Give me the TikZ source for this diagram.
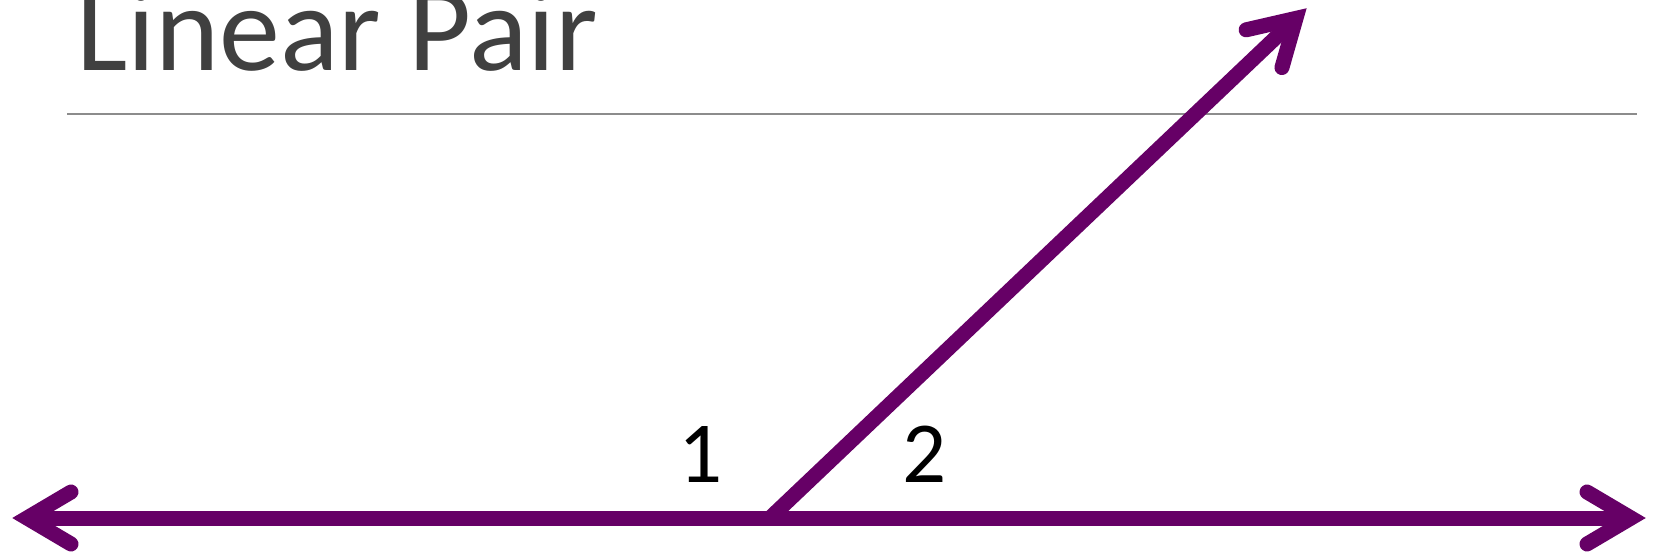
\documentclass[tikz,border=0pt]{standalone}
\usepackage{fontspec}
\setmainfont{Carlito}
\usetikzlibrary{calc}
\definecolor{purp}{HTML}{660066}
\definecolor{titlegray}{HTML}{404040}
\definecolor{rulegray}{HTML}{8C8C8C}
\begin{document}
\begin{tikzpicture}[x=1pt,y=1pt,
  rayline/.style={draw=purp, line width=15pt},
  barbs/.pic={\draw[purp, line width=15pt, line cap=round, line join=miter] (-62,26) -- (-18,0) -- (-62,-26);},
  anglelabel/.style={font=\fontsize{87}{87}\selectfont, anchor=base, inner sep=0pt, text=black},
  titletext/.style={font=\fontsize{122}{122}\selectfont, anchor=base west, inner sep=0pt, text=titlegray},
  rulestyle/.style={draw=rulegray, line width=1.5pt}]
\useasboundingbox (0,0) rectangle (1656,558);
% title and rule
\node[titletext] (title) at (76,487) {Linear Pair};
\coordinate (ruleL) at (67,444);
\coordinate (ruleR) at (1637,444);
\draw[rulestyle] (ruleL) -- (ruleR);
% line and ray
\coordinate (LT) at (9,40);
\coordinate (RT) at (1649,40);
\coordinate (LV) at (28,40);
\coordinate (RV) at (1630,40);
\coordinate (V) at (770,40);
\coordinate (UT) at (1309,552);
\draw[rayline] (LV) -- (RV);
\draw[rayline] (V) -- ($(UT)!20pt!(V)$);
\pic[rotate=180] at (LT) {barbs};
\pic at (RT) {barbs};
\pic[rotate=43.5] at (UT) {barbs};
% labels
\node[anglelabel] (one) at (701,76) {1};
\node[anglelabel] (two) at (925,76) {2};
\end{tikzpicture}
\end{document}
